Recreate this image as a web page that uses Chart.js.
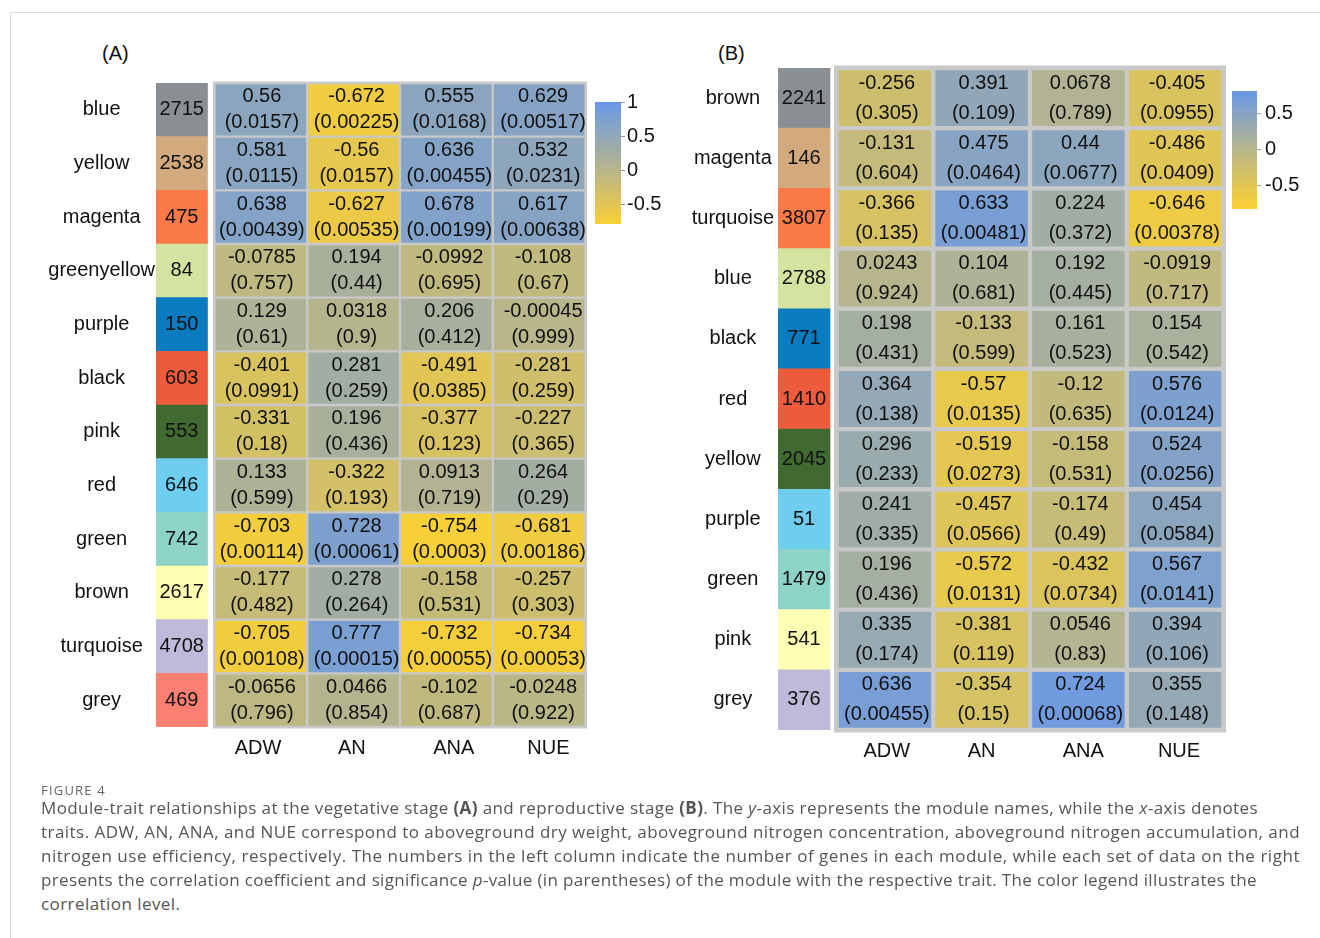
<!DOCTYPE html>
<html><head><meta charset="utf-8">
<script src="https://cdn.jsdelivr.net/npm/chart.js@4.4.1/dist/chart.umd.min.js"></script>
<style>
html,body{margin:0;padding:0;background:#fff;}
body{width:1320px;height:938px;position:relative;overflow:hidden;font-family:"Liberation Sans",Arial,sans-serif;}
.frame{position:absolute;left:10px;top:12px;width:1320px;height:940px;border-top:1px solid #dcdcdc;border-left:1px solid #dcdcdc;}
canvas{position:absolute;}
.plabel{position:absolute;font-size:20px;line-height:20px;color:#111;font-family:"Liberation Sans",Arial,sans-serif;}
.cap{position:absolute;left:41px;font-family:"Open Sans",sans-serif;color:#555;white-space:nowrap;}
.cap span{display:inline-block;}
.capline{font-size:17px;line-height:24px;}
.fig{font-size:13px;line-height:16px;color:#666;}
</style></head>
<body>
<div class="frame"></div>
<div class="plabel" style="left:102px;top:43px;">(A)</div>
<div class="plabel" style="left:718px;top:43px;">(B)</div>
<canvas id="heatA" width="680" height="790" style="left:0;top:0;"></canvas>
<canvas id="heatB" width="550" height="790" style="left:680px;top:0;"></canvas>
<canvas id="barA" width="75" height="150" style="left:595px;top:88px;"></canvas>
<canvas id="barB" width="80" height="150" style="left:1232px;top:75px;"></canvas>

<div class="cap fig" style="top:782px;"><span data-w="65">FIGURE 4</span></div>
<div class="cap capline" style="top:796px;"><span data-w="1217">Module-trait relationships at the vegetative stage <b>(A)</b> and reproductive stage <b>(B)</b>. The <i>y</i>-axis represents the module names, while the <i>x</i>-axis denotes</span></div>
<div class="cap capline" style="top:820px;"><span data-w="1259">traits. ADW, AN, ANA, and NUE correspond to aboveground dry weight, aboveground nitrogen concentration, aboveground nitrogen accumulation, and</span></div>
<div class="cap capline" style="top:844px;"><span data-w="1259">nitrogen use efficiency, respectively. The numbers in the left column indicate the number of genes in each module, while each set of data on the right</span></div>
<div class="cap capline" style="top:868px;"><span data-w="1216">presents the correlation coefficient and significance <i>p</i>-value (in parentheses) of the module with the respective trait. The color legend illustrates the</span></div>
<div class="cap capline" style="top:892px;"><span data-w="avg">correlation level.</span></div>

<script>
// ---------- DATA ----------
const traits = ['ADW', 'AN', 'ANA', 'NUE'];

// Panel A (vegetative stage)
const modulesA = ['blue','yellow','magenta','greenyellow','purple','black','pink','red','green','brown','turquoise','grey'];
const genesA = [2715, 2538, 475, 84, 150, 603, 553, 646, 742, 2617, 4708, 469];
const blockColorsA = ['#8a8f94','#d3aa7e','#f97a46','#d5e3a0','#0b7bc0','#ee5b3c','#406a30','#6fcdf0','#8dd3c7','#ffffb3','#bebada','#fb8072'];
const rA_ADW = [0.56, 0.581, 0.638, -0.0785, 0.129, -0.401, -0.331, 0.133, -0.703, -0.177, -0.705, -0.0656];
const pA_ADW = [0.0157, 0.0115, 0.00439, 0.757, 0.61, 0.0991, 0.18, 0.599, 0.00114, 0.482, 0.00108, 0.796];
const rA_AN  = [-0.672, -0.56, -0.627, 0.194, 0.0318, 0.281, 0.196, -0.322, 0.728, 0.278, 0.777, 0.0466];
const pA_AN  = [0.00225, 0.0157, 0.00535, 0.44, 0.9, 0.259, 0.436, 0.193, 0.00061, 0.264, 0.00015, 0.854];
const rA_ANA = [0.555, 0.636, 0.678, -0.0992, 0.206, -0.491, -0.377, 0.0913, -0.754, -0.158, -0.732, -0.102];
const pA_ANA = [0.0168, 0.00455, 0.00199, 0.695, 0.412, 0.0385, 0.123, 0.719, 0.0003, 0.531, 0.00055, 0.687];
const rA_NUE = [0.629, 0.532, 0.617, -0.108, -0.00045, -0.281, -0.227, 0.264, -0.681, -0.257, -0.734, -0.0248];
const pA_NUE = [0.00517, 0.0231, 0.00638, 0.67, 0.999, 0.259, 0.365, 0.29, 0.00186, 0.303, 0.00053, 0.922];
const colorbarTicksA = [1, 0.5, 0, -0.5];

// Panel B (reproductive stage)
const modulesB = ['brown','magenta','turquoise','blue','black','red','yellow','purple','green','pink','grey'];
const genesB = [2241, 146, 3807, 2788, 771, 1410, 2045, 51, 1479, 541, 376];
const blockColorsB = ['#8a8f94','#d3aa7e','#f97a46','#d5e3a0','#0b7bc0','#ee5b3c','#406a30','#6fcdf0','#8dd3c7','#ffffb3','#bebada'];
const rB_ADW = [-0.256, -0.131, -0.366, 0.0243, 0.198, 0.364, 0.296, 0.241, 0.196, 0.335, 0.636];
const pB_ADW = [0.305, 0.604, 0.135, 0.924, 0.431, 0.138, 0.233, 0.335, 0.436, 0.174, 0.00455];
const rB_AN  = [0.391, 0.475, 0.633, 0.104, -0.133, -0.57, -0.519, -0.457, -0.572, -0.381, -0.354];
const pB_AN  = [0.109, 0.0464, 0.00481, 0.681, 0.599, 0.0135, 0.0273, 0.0566, 0.0131, 0.119, 0.15];
const rB_ANA = [0.0678, 0.44, 0.224, 0.192, 0.161, -0.12, -0.158, -0.174, -0.432, 0.0546, 0.724];
const pB_ANA = [0.789, 0.0677, 0.372, 0.445, 0.523, 0.635, 0.531, 0.49, 0.0734, 0.83, 0.00068];
const rB_NUE = [-0.405, -0.486, -0.646, -0.0919, 0.154, 0.576, 0.524, 0.454, 0.567, 0.394, 0.355];
const pB_NUE = [0.0955, 0.0409, 0.00378, 0.717, 0.542, 0.0124, 0.0256, 0.0584, 0.0141, 0.106, 0.148];
const colorbarTicksB = [0.5, 0, -0.5];

// ---------- STYLE / HELPERS ----------
const FONT = '"Liberation Sans", Arial, sans-serif';
Chart.defaults.font.family = FONT;
Chart.defaults.color = '#111';
const FRAME_COLOR = '#c9c9c9';

function corrColor(v, posFull, negFull) {
  const zero = [184, 182, 138], blue = [104, 152, 232], yel = [250, 208, 52];
  let t, c;
  if (v >= 0) { t = Math.min(v / posFull, 1); c = blue; }
  else { t = Math.min(-v / negFull, 1); c = yel; }
  const m = zero.map((z, k) => Math.round(z + (c[k] - z) * t));
  return 'rgb(' + m.join(',') + ')';
}

function makeHeatmap(id, o) {
  const canvas = document.getElementById(id);
  const datasets = [{
    kind: 'count',
    values: o.genes,
    data: o.genes.map(() => o.blockRange),
    backgroundColor: o.blockColors,
    borderWidth: 0,
    grouped: false,
    categoryPercentage: 1, barPercentage: 1
  }];
  traits.forEach((t, i) => {
    datasets.push({
      kind: 'trait',
      r: o.r[i], p: o.p[i],
      data: o.r[i].map(() => [i, i + 1]),
      backgroundColor: o.r[i].map(v => corrColor(v, o.posFull, o.negFull)),
      borderColor: FRAME_COLOR,
      borderWidth: o.cellBorder,
      borderSkipped: false,
      grouped: false,
      categoryPercentage: 1, barPercentage: 1
    });
  });

  const framePlugin = {
    id: 'heatFrame',
    beforeDatasetsDraw(chart) {
      const ctx = chart.ctx, xs = chart.scales.x, a = chart.chartArea, f = o.frame;
      const x0 = xs.getPixelForValue(0) - f, x1 = xs.getPixelForValue(4) + f;
      ctx.save();
      ctx.fillStyle = FRAME_COLOR;
      ctx.fillRect(x0, a.top - f, x1 - x0, a.bottom - a.top + 2 * f);
      ctx.restore();
    }
  };
  const labelPlugin = {
    id: 'cellText',
    afterDatasetsDraw(chart) {
      const ctx = chart.ctx;
      ctx.save();
      ctx.font = '20px ' + FONT;
      ctx.fillStyle = '#111';
      ctx.textAlign = 'center';
      ctx.textBaseline = 'middle';
      chart.data.datasets.forEach((ds, di) => {
        chart.getDatasetMeta(di).data.forEach((el, i) => {
          const pr = el.getProps(['x', 'y', 'base'], true);
          const cx = (pr.x + pr.base) / 2;
          if (ds.kind === 'count') {
            ctx.fillText(String(ds.values[i]), cx, pr.y);
          } else {
            const dx = o.textDx[di - 1];
            ctx.fillText(String(ds.r[i]), cx + dx, pr.y - o.textOff);
            ctx.fillText('(' + String(ds.p[i]) + ')', cx + dx, pr.y + o.textOff);
          }
        });
      });
      ctx.restore();
    }
  };

  new Chart(canvas, {
    type: 'bar',
    data: { labels: o.modules, datasets },
    plugins: [framePlugin, labelPlugin],
    options: {
      indexAxis: 'y',
      responsive: false,
      animation: false,
      events: [],
      layout: { padding: { left: 0, top: o.areaTop, right: canvas.width - o.areaRight, bottom: canvas.height - o.areaBottom - 40 } },
      plugins: { legend: { display: false }, tooltip: { enabled: false } },
      scales: {
        x: {
          type: 'linear', min: o.xMin, max: o.xMax,
          grid: { display: false, drawTicks: false },
          border: { display: false },
          afterBuildTicks: axis => { axis.ticks = traits.map((t, i) => ({ value: i + 0.5 + o.tickShift[i] })); },
          afterFit: axis => { axis.height = 40; },
          ticks: { autoSkip: false, maxRotation: 0, padding: 9, font: { size: 20 }, color: '#111',
                   callback: (v, i) => traits[i] }
        },
        y: {
          type: 'category',
          grid: { display: false, drawTicks: false },
          border: { display: false },
          afterFit: axis => { axis.width = o.areaLeft; },
          ticks: { autoSkip: false, crossAlign: 'center', padding: o.labelPad, font: { size: 20 }, color: '#111' }
        }
      }
    }
  });
}

function makeColorbar(id, vmin, vmax, ticks, posFull, negFull, tickPad, barW, pad) {
  const canvas = document.getElementById(id);
  new Chart(canvas, {
    type: 'bar',
    data: {
      labels: [''],
      datasets: [{
        data: [[vmin, vmax]],
        borderWidth: 0,
        categoryPercentage: 1, barPercentage: 1,
        backgroundColor: (c) => {
          const chart = c.chart;
          if (!chart.chartArea) return '#aaa';
          const ys = chart.scales.y;
          const g = chart.ctx.createLinearGradient(0, ys.getPixelForValue(vmin), 0, ys.getPixelForValue(vmax));
          const n = 40;
          for (let k = 0; k <= n; k++) {
            const v = vmin + (vmax - vmin) * k / n;
            g.addColorStop(k / n, corrColor(v, posFull, negFull));
          }
          return g;
        }
      }]
    },
    options: {
      responsive: false, animation: false, events: [],
      layout: { padding: { left: 0, right: 0, top: pad.top, bottom: pad.bottom } },
      plugins: { legend: { display: false }, tooltip: { enabled: false } },
      scales: {
        x: { display: false },
        y: {
          position: 'right', min: vmin, max: vmax,
          grid: { drawOnChartArea: false, drawTicks: true, tickLength: 4, color: '#9a9a9a', lineWidth: 1 },
          border: { display: false },
          afterBuildTicks: axis => { axis.ticks = ticks.map(v => ({ value: v })); },
          afterFit: axis => { axis.width = canvas.width - barW; },
          ticks: { padding: tickPad, font: { size: 20 }, color: '#111', callback: v => String(v) }
        }
      }
    }
  });
}

// ---------- BUILD ----------
// Panel A: trait columns 0..4 -> 214.5..585.5 px (92.75 px per column)
makeHeatmap('heatA', {
  modules: modulesA, genes: genesA, blockColors: blockColorsA,
  r: [rA_ADW, rA_AN, rA_ANA, rA_NUE], p: [pA_ADW, pA_AN, pA_ANA, pA_NUE],
  posFull: 1.0, negFull: 0.8,
  xMin: -0.6307, xMax: 4.0162, blockRange: [-0.6307, -0.0755],
  areaLeft: 156, areaRight: 587, areaTop: 83, areaBottom: 727,
  cellBorder: 1.5, frame: 1.5, textOff: 13, textDx: [1, 3, 3, 4], labelPad: 1,
  tickShift: [-0.03, -0.02, 0.08, 0.1]
});
// Panel B: trait columns 0..4 -> 836.5..1223.5 px (96.75 px per column)
makeHeatmap('heatB', {
  modules: modulesB, genes: genesB, blockColors: blockColorsB,
  r: [rB_ADW, rB_AN, rB_ANA, rB_NUE], p: [pB_ADW, pB_AN, pB_ANA, pB_NUE],
  posFull: 0.8, negFull: 0.8,
  xMin: -0.6047, xMax: 4.0258, blockRange: [-0.6047, -0.0672],
  areaLeft: 98, areaRight: 546, areaTop: 68, areaBottom: 730,
  cellBorder: 2.5, frame: 2.5, textOff: 15, textDx: [2, 2, 2, 2], labelPad: 4,
  tickShift: [0.02, 0.0, 0.05, 0.04]
});

makeColorbar('barA', -0.79, 1.0, colorbarTicksA, 1.0, 0.8, 2, 26, { top: 12, bottom: 14 });
makeColorbar('barB', -0.816, 0.804, colorbarTicksB, 0.8, 0.8, 4, 25, { top: 12, bottom: 10 });

// ---------- caption fit ----------
function fitCaption() {
  const spans = Array.from(document.querySelectorAll('.cap span'));
  const lsList = [];
  spans.forEach(sp => {
    sp.style.letterSpacing = '0px';
    if (sp.dataset.w === 'avg') return;
    const w = sp.getBoundingClientRect().width;
    const n = sp.textContent.length;
    const ls = (parseFloat(sp.dataset.w) - w) / n;
    sp.style.letterSpacing = ls + 'px';
    if (sp.closest('.capline')) lsList.push(ls);
  });
  const avg = lsList.reduce((a, b) => a + b, 0) / Math.max(lsList.length, 1);
  spans.filter(sp => sp.dataset.w === 'avg').forEach(sp => { sp.style.letterSpacing = avg + 'px'; });
}
fitCaption();
if (document.fonts && document.fonts.ready) document.fonts.ready.then(fitCaption);
</script>
</body></html>
